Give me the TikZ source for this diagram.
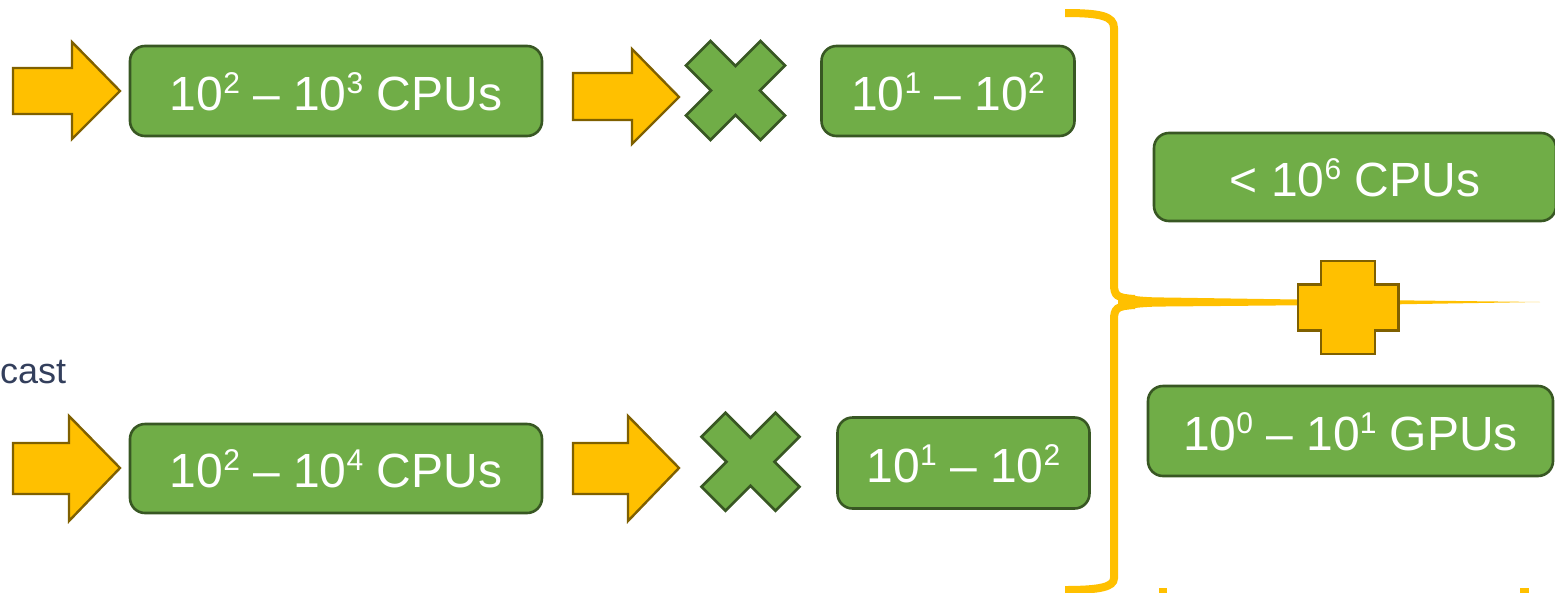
\documentclass[tikz,border=0pt]{standalone}
\usepackage{fontspec}
\setmainfont{Liberation Sans}
\definecolor{orng}{HTML}{FFC000}
\definecolor{brwn}{HTML}{7F6000}
\definecolor{grn}{HTML}{70AD47}
\definecolor{dgrn}{HTML}{385723}
\definecolor{navy}{HTML}{333F5C}
\newcommand\supx[1]{\raisebox{17pt}{\fontsize{30}{32}\selectfont #1}}
\tikzset{
  gbox/.style={draw=dgrn, fill=grn, line width=2.6pt, rounded corners=15pt,
    inner sep=0pt, text=white, font=\fontsize{48}{56}\selectfont,
    text height=38pt, text depth=0pt},
  oshape/.style={draw=brwn, fill=orng, line width=2.4pt, line join=miter},
  gshape/.style={draw=dgrn, fill=grn, line width=2.6pt, line join=miter},
  bracel/.style={draw=orng, line width=8pt},
}
\begin{document}
\begin{tikzpicture}[x=1pt, y=-1pt]
\useasboundingbox (0,0) rectangle (1555,592);
\clip (0,0) rectangle (1555,592);

% block arrows
\draw[oshape] (13,68) -- (72,68) -- (72,42) -- (120,91) -- (72,139) -- (72,114) -- (13,114) -- cycle;
\draw[oshape] (573,73) -- (632,73) -- (632,49) -- (679,97) -- (632,144) -- (632,120) -- (573,120) -- cycle;
\draw[oshape] (13,443) -- (69,443) -- (69,416) -- (120,468) -- (69,521) -- (69,494) -- (13,494) -- cycle;
\draw[oshape] (573,443) -- (628,443) -- (628,416) -- (679,468) -- (628,521) -- (628,494) -- (573,494) -- cycle;

% crosses
\draw[gshape, shift={(735.5,90.5)}]
  (0,-24.5) -- (25,-49.5) -- (49.5,-25) -- (24.5,0) -- (49.5,25) -- (25,49.5) --
  (0,24.5) -- (-25,49.5) -- (-49.5,25) -- (-24.5,0) -- (-49.5,-25) -- (-25,-49.5) -- cycle;
\draw[gshape, shift={(750.5,461.7)}]
  (0,-24) -- (25,-49) -- (49,-25) -- (24,0) -- (49,25) -- (25,49) --
  (0,24) -- (-25,49) -- (-49,25) -- (-24,0) -- (-49,-25) -- (-25,-49) -- cycle;

% boxes
\node[gbox, minimum width=412pt, minimum height=90pt] (b1) at (336,91) {10\supx{2} \textendash{} 10\supx{3} CPUs};
\node[gbox, minimum width=253pt, minimum height=90pt] (b2) at (948,91) {10\supx{1} \textendash{} 10\supx{2}};
\node[gbox, minimum width=412pt, minimum height=89pt] (b3) at (336,468.5) {10\supx{2} \textendash{} 10\supx{4} CPUs};
\node[gbox, minimum width=252pt, minimum height=91pt] (b4) at (963.5,463) {10\supx{1} \textendash{} 10\supx{2}};
\node[gbox, minimum width=402pt, minimum height=88pt] (b5) at (1355,177) {< 10\supx{6} CPUs};
\node[gbox, minimum width=405pt, minimum height=90pt] (b6) at (1350.5,431) {10\supx{0} \textendash{} 10\supx{1} GPUs};

% partial label
\node[anchor=base west, inner sep=0pt, text=navy, font=\fontsize{36}{42}\selectfont] (lbl) at (0,383) {cast};

% brace
\draw[bracel] (1065,13) .. controls (1100,13) and (1114,16) .. (1114,28) -- (1114,284)
  .. controls (1114,296) and (1117,298) .. (1135,299);
\draw[bracel] (1135,305) .. controls (1117,306) and (1114,308) .. (1114,320) -- (1114,578)
  .. controls (1114,587) and (1100,590) .. (1065,590);
\fill[orng] (1118,293) .. controls (1130,296) and (1145,297.5) .. (1165,297.5) -- (1297,299.5) -- (1398,300.3) -- (1540,302)
  -- (1398,304.3) -- (1297,305.3) -- (1165,306.5) .. controls (1145,306.5) and (1130,308) .. (1118,311) -- cycle;

% plus
\draw[oshape, shift={(1348,307.5)}]
  (-27,-46.3) -- (27,-46.3) -- (27,-23) -- (50.3,-23) -- (50.3,23) -- (27,23) -- (27,46.3) --
  (-27,46.3) -- (-27,23) -- (-50.3,23) -- (-50.3,-23) -- (-27,-23) -- cycle;

% bottom marks
\fill[orng] (1158.5,587.5) rectangle (1167,593);
\fill[orng] (1520,587.5) rectangle (1529,593);
\end{tikzpicture}
\end{document}
